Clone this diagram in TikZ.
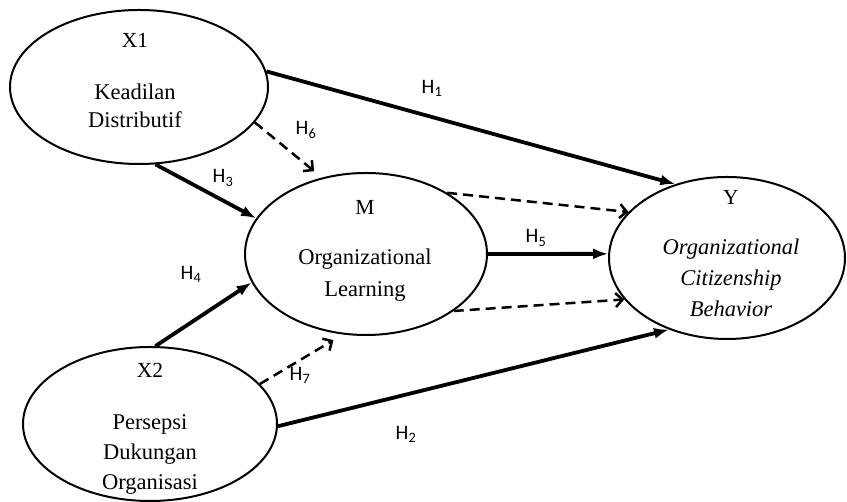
\documentclass[tikz,border=0pt]{standalone}
\usepackage{fontspec}
\setmainfont{Liberation Serif}
\newfontfamily\hypfont{Carlito}
\usepackage{tikz}
\usetikzlibrary{shapes.geometric}
\usetikzlibrary{arrows.meta}
\tikzset{
  construct/.style={draw, ellipse, line width=2pt, inner sep=0pt},
  code/.style={anchor=base, font=\fontsize{21.5}{28}\selectfont},
  desc/.style={anchor=base, align=center, font=\fontsize{22.5}{29}\selectfont},
  italicdesc/.style={anchor=base, align=center, font=\fontsize{22.5}{31}\selectfont\itshape},
  hyp/.style={font=\hypfont\fontsize{20.5}{24}\selectfont, inner sep=1pt},
  direct/.style={line width=3.8pt, -{Latex[length=15pt,width=11pt]}},
  indirect/.style={line width=2.5pt, dash pattern=on 10pt off 6pt, -{Straight Barb[length=7pt,width=14pt]}}
}

\begin{document}
\begin{tikzpicture}[x=1pt, y=1pt]
      \path[fill=white] (0,0) rectangle (847,501);

      \node[construct, minimum width=258pt, minimum height=154pt] (x1) at (139,414) {};
      \node[construct, minimum width=254pt, minimum height=154pt] (x2) at (150,77) {};
      \node[construct, minimum width=242pt, minimum height=162pt] (m) at (366,247) {};
      \node[construct, minimum width=236pt, minimum height=162pt] (y) at (727,243) {};

      \node[code] (x1code) at (135,453) {X1};
      \node[desc, font=\fontsize{22.5}{28}\selectfont] (x1desc) at (135,373) {Keadilan\\Distributif};
      \node[code] (x2code) at (150,123) {X2};
      \node[desc, font=\fontsize{22.5}{30}\selectfont] (x2desc) at (150,11) {Persepsi\\Dukungan\\Organisasi};
      \node[code] (mcode) at (365,286) {M};
      \node[desc, font=\fontsize{22.5}{32}\selectfont] (mdesc) at (365,204) {Organizational\\Learning};
      \node[code] (ycode) at (731,296) {Y};
      \node[italicdesc] (ydesc) at (731,184) {Organizational\\Citizenship\\Behavior};

      \draw[direct] (x1.7) -- (y.125);
      \draw[direct] (x2.-1) -- (y.-129);
      \draw[direct] (x1.-78) -- (m.162);
      \draw[direct] (x2.86) -- (m.-166);
      \draw[direct] (m.0) -- (y.178);
      \draw[indirect, shorten >=10pt] (x1.-17) -- (m.120);
      \draw[indirect, shorten >=11pt] (x2.20) -- (m.-106);
      \draw[indirect] (m.37) -- (y.155);
      \draw[indirect] (m.-33) -- (y.-158);

      \node[hyp] (h1) at (432,413) {H\textsubscript{1}};
      \node[hyp] (h2) at (406,67) {H\textsubscript{2}};
      \node[hyp] (h3) at (223,323) {H\textsubscript{3}};
      \node[hyp] (h4) at (191,227) {H\textsubscript{4}};
      \node[hyp] (h5) at (536,263) {H\textsubscript{5}};
      \node[hyp] (h6) at (306,371) {H\textsubscript{6}};
      \node[hyp] (h7) at (300,126) {H\textsubscript{7}};
\end{tikzpicture}
\end{document}
